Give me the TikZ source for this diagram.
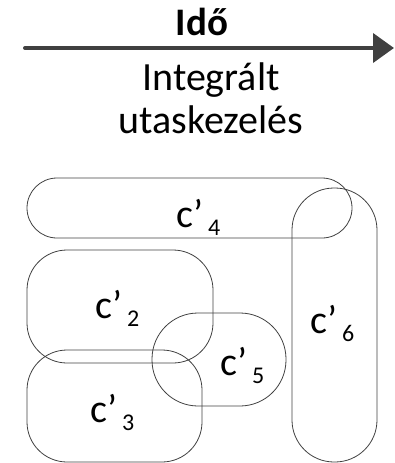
\documentclass[tikz,border=0pt]{standalone}
\usepackage{fontspec}
\setmainfont{Carlito}
\usetikzlibrary{arrows.meta}
\newcommand{\clab}[1]{c’\kern5pt\raisebox{-8pt}{\fontsize{24}{24}\selectfont #1}}
\begin{document}
\begin{tikzpicture}[x=1pt,y=-1pt,
  setshape/.style={draw=black!75,line width=0.8pt},
  setlabel/.style={anchor=base west,inner sep=0pt,font=\fontsize{40}{40}\selectfont},
  headtext/.style={anchor=base,inner sep=0pt,font=\fontsize{40}{40}\selectfont},
  timearrow/.style={draw=black!75,line width=4pt,line cap=round,
    -{Triangle[length=21pt,width=29pt]}}]
\useasboundingbox (0,0) rectangle (394,463);

% time axis
\coordinate (tstart) at (25,48);
\coordinate (tend) at (394,48);
\draw[timearrow] (tstart) -- (tend);
\node[headtext,font=\fontsize{39}{39}\selectfont\bfseries] (ido) at (202,35) {Idő};
\node[headtext] (integr) at (211,90) {Integrált};
\node[headtext] (utas) at (211,133) {utaskezelés};

% overlapping sets
\draw[setshape,rounded corners=30pt] (27,178) rectangle (352,238);
\draw[setshape,rounded corners=40pt] (27,250) rectangle (213,363);
\draw[setshape,rounded corners=40pt] (27,350) rectangle (202,462);
\draw[setshape,rounded corners=46pt] (152,313) rectangle (286,406);
\draw[setshape,rounded corners=42pt] (292,188) rectangle (377,462);

% set labels
\node[setlabel] (c4) at (176,227) {\clab{4}};
\node[setlabel] (c2) at (95,318) {\clab{2}};
\node[setlabel] (c5) at (220,375) {\clab{5}};
\node[setlabel] (c6) at (310,333) {\clab{6}};
\node[setlabel] (c3) at (90,422) {\clab{3}};
\end{tikzpicture}
\end{document}
